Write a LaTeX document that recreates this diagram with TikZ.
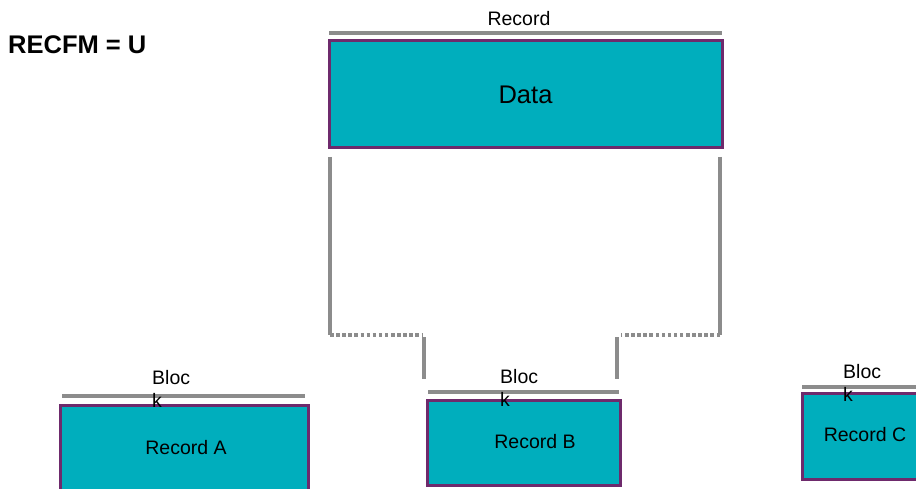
\documentclass[tikz,border=0pt]{standalone}
\usepackage{fontspec}
\setmainfont{Liberation Sans}
\definecolor{boxteal}{HTML}{00AEBD}
\definecolor{boxrim}{HTML}{6E2A6C}
\definecolor{bargray}{HTML}{8C8C8C}
\begin{document}
\begin{tikzpicture}[x=1pt, y=-1pt,
  recbox/.style={draw=boxrim, fill=boxteal, line width=3pt, inner sep=0pt},
  bar/.style={bargray, line width=3.6pt},
  side/.style={bargray, line width=3.4pt},
  gapline/.style={bargray, line width=3.4pt, dash pattern=on 3.5pt off 2.6pt},
  small/.style={font=\fontsize{19.5}{23}\selectfont, inner sep=0pt},
  blocktxt/.style={small, align=left, anchor=north west}]
\clip (0,0) rectangle (916,489);
\fill[white] (0,0) rectangle (916,489);
% title
\node[anchor=west, inner sep=0pt, font=\bfseries\fontsize{25.5}{28}\selectfont] (recfm) at (8,45) {RECFM = U};
% the record on top
\node[small] (reclbl) at (519,19) {Record};
\draw[bar] (329,33) -- (722,33);
\node[recbox, minimum width=393pt, minimum height=107pt, font=\fontsize{25.5}{28}\selectfont] (data) at (525.5,94.5) {Data};
% bracket down to block B
\draw[side] (330,157) -- (330,335);
\draw[gapline] (330,335) -- (423,335);
\draw[side] (424,337) -- (424,379);
\draw[side] (720,157) -- (720,335);
\draw[gapline] (720,335) -- (621,335);
\draw[side] (617,337) -- (617,379);
% block A
\draw[bar] (62,396) -- (305,396);
\node[recbox, minimum width=248pt, minimum height=100pt] (boxA) at (184,455) {};
\node[small] (txtA) at (186,448) {Record A};
\node[blocktxt] (blkA) at (152,370) {Bloc\\k};
% block B
\draw[bar] (428,392) -- (619,392);
\node[recbox, minimum width=193pt, minimum height=85pt] (boxB) at (523.5,442.5) {};
\node[small] (txtB) at (535,442) {Record B};
\node[blocktxt] (blkB) at (500,369) {Bloc\\k};
% block C
\draw[bar] (802,387) -- (930,387);
\node[recbox, minimum width=140pt, minimum height=86pt] (boxC) at (872,436) {};
\node[small] (txtC) at (865,435) {Record C};
\node[blocktxt] (blkC) at (843,364) {Bloc\\k};
\end{tikzpicture}
\end{document}
